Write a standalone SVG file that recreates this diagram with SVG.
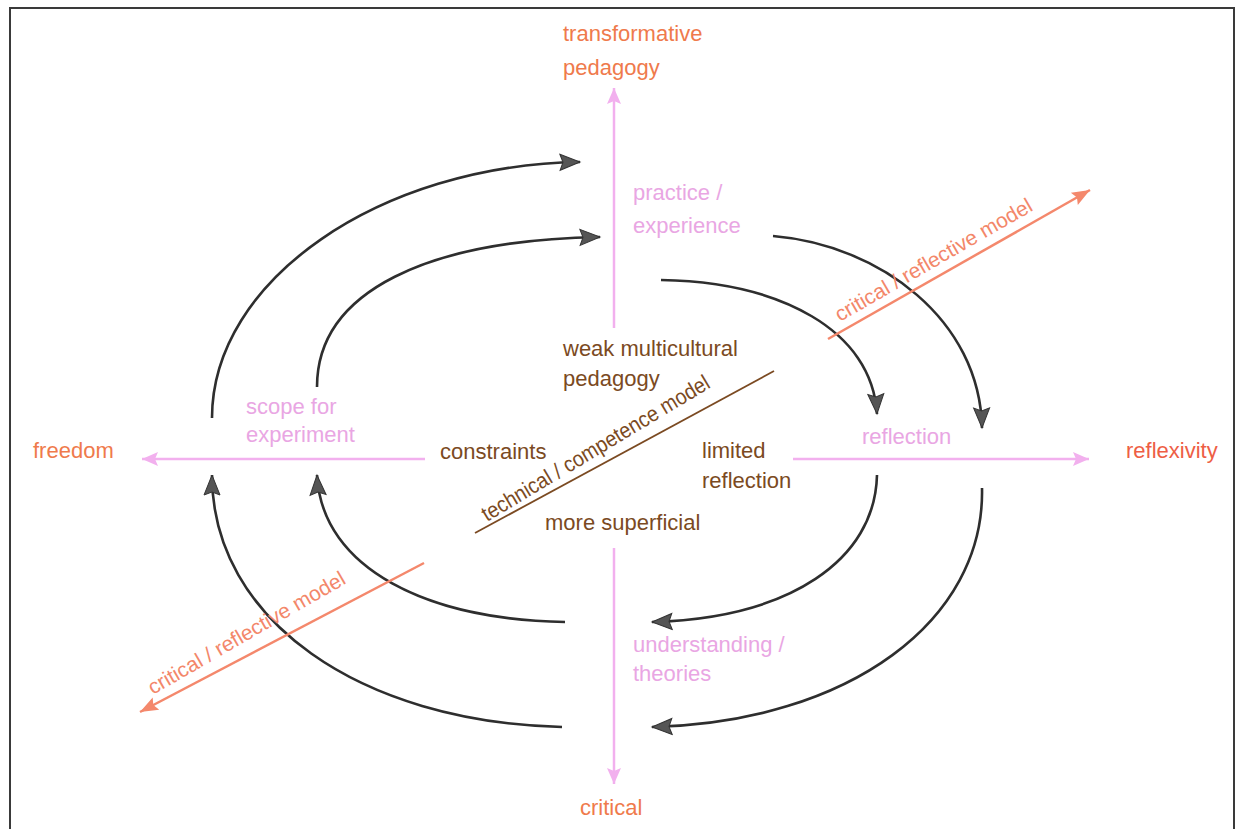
<svg xmlns="http://www.w3.org/2000/svg" width="1243" height="829" viewBox="0 0 1243 829">
<defs>
<style>
text{font-family:"Liberation Sans",Arial,sans-serif;font-size:22px}
.or{fill:#ef7a4c}
.red{fill:#ee5e45}
.pk{fill:#e9a6e3}
.br{fill:#7b4a22}
.sal{fill:#f3876a;font-size:21px}
.cyc{fill:none;stroke:#2e2e2e;stroke-width:2.6}
.axis{fill:none;stroke:#f2b0ee;stroke-width:2.5}
.diag{fill:none;stroke:#f4886c;stroke-width:2.5}
</style>
<marker id="ah" markerUnits="userSpaceOnUse" markerWidth="22" markerHeight="18" refX="20" refY="8" orient="auto" overflow="visible">
<path d="M0,0 L20,8 L0,16 L3,8 z" fill="#555" stroke="#333" stroke-width="1"/>
</marker>
<marker id="pa" markerUnits="userSpaceOnUse" markerWidth="18" markerHeight="16" refX="16" refY="7" orient="auto" overflow="visible">
<path d="M0,0 L16,7 L0,14 L3,7 z" fill="#f2b0ee"/>
</marker>
<marker id="oa" markerUnits="userSpaceOnUse" markerWidth="20" markerHeight="16" refX="18" refY="7" orient="auto" overflow="visible">
<path d="M0,0 L18,7 L0,14 L3,7 z" fill="#f4886c"/>
</marker>
</defs>
<rect width="1243" height="829" fill="#fff"/>
<rect x="10" y="8" width="1224" height="840" fill="none" stroke="#3a3a3a" stroke-width="2"/>

<g id="connectors">
<path class="axis" d="M614,328 L614,88" marker-end="url(#pa)"/>
<path class="axis" d="M614,548 L614,784" marker-end="url(#pa)"/>
<path class="axis" d="M425,459 L142,459" marker-end="url(#pa)"/>
<path class="axis" d="M793,459 L1089,459" marker-end="url(#pa)"/>
<path class="cyc" d="M212,418 C212,280 380,165 580,162" marker-end="url(#ah)"/>
<path class="cyc" d="M317,387 C317,290 430,240 600,237" marker-end="url(#ah)"/>
<path class="cyc" d="M661,280 C780,282 872,330 877,414" marker-end="url(#ah)"/>
<path class="cyc" d="M773,236 C880,245 980,320 982,428" marker-end="url(#ah)"/>
<path class="cyc" d="M877,475 C875,560 790,618 652,622" marker-end="url(#ah)"/>
<path class="cyc" d="M982,488 C985,620 850,722 652,727" marker-end="url(#ah)"/>
<path class="cyc" d="M565,622 C430,620 322,570 317,475" marker-end="url(#ah)"/>
<path class="cyc" d="M562,727 C360,722 212,620 212,475" marker-end="url(#ah)"/>
<path class="diag" d="M828,339 L1090,190" marker-end="url(#oa)"/>
<path class="diag" d="M424,563 L140,712" marker-end="url(#oa)"/>
<path d="M475,533 L774,371" fill="none" stroke="#7b4a22" stroke-width="1.8"/>
</g>

<g id="transformative"><text class="or" x="563" y="41">transformative</text><text class="or" x="563" y="75">pedagogy</text></g>
<g id="critical"><text class="or" x="580" y="815">critical</text></g>
<g id="freedom"><text class="or" x="33" y="458">freedom</text></g>
<g id="reflexivity"><text class="red" x="1126" y="458">reflexivity</text></g>

<g id="practice"><text class="pk" x="633" y="200">practice /</text><text class="pk" x="633" y="233">experience</text></g>
<g id="scope"><text class="pk" x="246" y="414">scope for</text><text class="pk" x="246" y="442">experiment</text></g>
<g id="reflection"><text class="pk" x="862" y="444">reflection</text></g>
<g id="understanding"><text class="pk" x="633" y="652">understanding /</text><text class="pk" x="633" y="681">theories</text></g>

<g id="weak"><text class="br" x="563" y="356">weak multicultural</text><text class="br" x="563" y="386">pedagogy</text></g>
<g id="constraints"><text class="br" x="440" y="459">constraints</text></g>
<g id="limited"><text class="br" x="702" y="458">limited</text><text class="br" x="702" y="488">reflection</text></g>
<g id="superficial"><text class="br" x="545" y="530">more superficial</text></g>
<g id="technical"><text class="br" transform="translate(487,522) rotate(-31)" textLength="262" lengthAdjust="spacingAndGlyphs">technical / competence model</text></g>

<g id="crit-tr"><text class="sal" transform="translate(840,322) rotate(-30)">critical / reflective model</text></g>
<g id="crit-bl"><text class="sal" transform="translate(153,695) rotate(-30)">critical / reflective model</text></g>
</svg>
